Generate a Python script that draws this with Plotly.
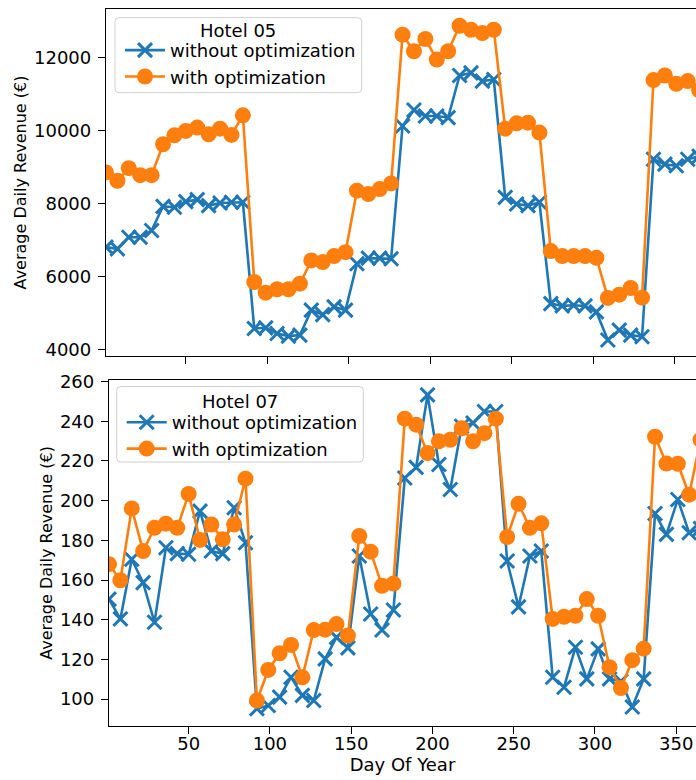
import plotly.graph_objects as go

# Weekly sample days (day of year)
days = [1, 8, 15, 22, 29, 36, 43, 50, 57, 64, 71, 78, 85, 92, 99, 106, 113, 120,
        127, 134, 141, 148, 155, 162, 169, 176, 183, 190, 197, 204, 211, 218, 225,
        232, 239, 246, 253, 260, 267, 274, 281, 288, 295, 302, 309, 316, 323, 330,
        337, 344, 351, 358, 365]

# Hotel 05 average daily revenue (EUR)
h05_without = [6806, 6760, 7079, 7079, 7262, 7926, 7899, 8055, 8109, 7945, 8016, 8036,
               8036, 4574, 4593, 4437, 4366, 4393, 5077, 4956, 5167, 5077, 6350, 6505,
               6505, 6486, 10131, 10568, 10404, 10404, 10358, 11514, 11587, 11361, 11404,
               8172, 7989, 7945, 8036, 5257, 5194, 5213, 5194, 5030, 4257, 4530, 4393,
               4347, 9219, 9082, 9038, 9219, 9300]
h05_with = [8855, 8628, 8973, 8781, 8781, 9628, 9874, 9995, 10085, 9902, 10057, 9885,
            10421, 5850, 5557, 5650, 5650, 5803, 6443, 6396, 6560, 6669, 8355, 8262,
            8399, 8555, 12634, 12180, 12516, 11951, 12180, 12880, 12770, 12680, 12770,
            10057, 10202, 10221, 9948, 6697, 6560, 6560, 6560, 6514, 5413, 5503, 5686,
            5421, 11388, 11514, 11287, 11361, 11115]

# Hotel 07 average daily revenue (EUR)
h07_without = [150.4, 140.4, 170.5, 158.7, 138.7, 176.3, 173.3, 173.0, 194.7, 174.6,
               173.3, 196.4, 178.8, 95.2, 96.8, 101.0, 111.0, 101.9, 99.3, 120.3, 131.1,
               125.8, 172.1, 142.9, 134.8, 144.9, 211.4, 216.8, 253.3, 218.2, 205.6,
               237.5, 239.1, 244.9, 244.9, 169.6, 146.5, 172.1, 174.6, 111.0, 106.0,
               126.1, 110.2, 125.3, 110.2, 109.0, 96.0, 110.2, 193.5, 183.0, 200.6,
               183.8, 186.0]
h07_with = [168.0, 159.9, 196.1, 174.6, 186.3, 188.4, 186.3, 203.4, 180.2, 188.0, 180.5,
            188.0, 211.1, 99.3, 114.7, 123.1, 127.3, 111.0, 134.8, 135.0, 137.8, 132.0,
            182.2, 174.3, 157.1, 158.2, 241.3, 238.3, 224.0, 229.9, 230.7, 236.5, 229.9,
            234.0, 241.3, 181.7, 198.4, 186.3, 188.6, 140.4, 141.5, 142.0, 150.4, 142.0,
            116.1, 105.6, 119.6, 125.4, 232.2, 218.7, 218.6, 203.0, 230.7]

x_ticks = [50, 100, 150, 200, 250, 300, 350]
series_names = ["without optimization", "with optimization"]
hotel_titles = ["Hotel 05", "Hotel 07"]

BLUE = "#1f77b4"
ORANGE = "#ff7f0e"
FONT = "DejaVu Sans"
FS = 18

W, H = 696, 780
ML, MR, MT, MB = 100, 0, 6, 54.3
PW, PH = W - ML - MR, H - MT - MB


def px_x(px):
    """Pixel column -> paper x."""
    return (px - ML) / PW


def px_y(py):
    """Pixel row (from top) -> paper y."""
    return (H - MB - py) / PH


def rounded_box(x0, y0, x1, y1, r=4):
    """Rounded rectangle path in paper coordinates from pixel corners."""
    pts = []
    pts.append(f"M{px_x(x0 + r)},{px_y(y0)}")
    pts.append(f"L{px_x(x1 - r)},{px_y(y0)}")
    pts.append(f"Q{px_x(x1)},{px_y(y0)} {px_x(x1)},{px_y(y0 + r)}")
    pts.append(f"L{px_x(x1)},{px_y(y1 - r)}")
    pts.append(f"Q{px_x(x1)},{px_y(y1)} {px_x(x1 - r)},{px_y(y1)}")
    pts.append(f"L{px_x(x0 + r)},{px_y(y1)}")
    pts.append(f"Q{px_x(x0)},{px_y(y1)} {px_x(x0)},{px_y(y1 - r)}")
    pts.append(f"L{px_x(x0)},{px_y(y0 + r)}")
    pts.append(f"Q{px_x(x0)},{px_y(y0)} {px_x(x0 + r)},{px_y(y0)}Z")
    return " ".join(pts)


fig = go.Figure()

panels = [
    (h05_without, h05_with, "x", "y", "legend"),
    (h07_without, h07_with, "x2", "y2", "legend2"),
]
for without, with_opt, xa, ya, lg in panels:
    fig.add_trace(go.Scatter(
        x=days, y=without, mode="lines+markers", name=series_names[0],
        line=dict(color=BLUE, width=2.6),
        marker=dict(symbol="x-thin", size=14, color=BLUE,
                    line=dict(color=BLUE, width=3)),
        xaxis=xa, yaxis=ya, legend=lg))
    fig.add_trace(go.Scatter(
        x=days, y=with_opt, mode="lines+markers", name=series_names[1],
        line=dict(color=ORANGE, width=2.6),
        marker=dict(symbol="circle", size=16, color=ORANGE, line=dict(width=0)),
        xaxis=xa, yaxis=ya, legend=lg))

axis_common = dict(showline=True, linecolor="black", linewidth=1.3, ticks="outside",
                   ticklen=7, tickwidth=1.3, tickcolor="black", showgrid=False,
                   zeroline=False, tickfont=dict(family=FONT, size=FS, color="black"))

ylabel = "Average Daily Revenue (€)"

# legend frames (box + centred title) for each panel
frames = [
    dict(box=(115, 14.7, 361.7, 90), title=hotel_titles[0], tx=238.4, ty=28),
    dict(box=(116.7, 385, 363.3, 460.7), title=hotel_titles[1], tx=240, ty=400),
]
shapes, annotations = [], []
for fr in frames:
    shapes.append(dict(type="path", xref="paper", yref="paper", layer="above",
                       path=rounded_box(*fr["box"]),
                       fillcolor="rgba(255,255,255,0.8)",
                       line=dict(color="#d0d0d0", width=1)))
    annotations.append(dict(xref="paper", yref="paper", x=px_x(fr["tx"]), y=px_y(fr["ty"]),
                            xanchor="center", yanchor="middle", showarrow=False,
                            text=fr["title"], font=dict(family=FONT, size=FS, color="black")))

legend_common = dict(xanchor="left", yanchor="top", bgcolor="rgba(0,0,0,0)",
                     borderwidth=0, itemwidth=40, font=dict(family=FONT, size=FS))

fig.update_layout(
    width=W, height=H,
    margin=dict(l=ML, r=MR, t=MT, b=MB),
    paper_bgcolor="white", plot_bgcolor="white",
    font=dict(family=FONT, size=FS, color="black"),
    xaxis=dict(domain=[px_x(106), 1], anchor="y", range=[1, 363.1], tickvals=x_ticks,
               showticklabels=False, mirror=True, **axis_common),
    yaxis=dict(domain=[px_y(354.3), 1], anchor="x", range=[3820, 13339],
               tickvals=[4000, 6000, 8000, 10000, 12000], tickformat="d",
               ticklabelstandoff=3,
               title=dict(text=ylabel, standoff=3, font=dict(family=FONT, size=16)),
               **axis_common),
    xaxis2=dict(domain=[px_x(109), 1], anchor="y2", range=[1, 362.2], tickvals=x_ticks,
                mirror=True, ticklabelstandoff=-6,
                title=dict(text="Day Of Year", standoff=4, font=dict(family=FONT, size=FS)),
                **axis_common),
    yaxis2=dict(domain=[0, px_y(378.3)], anchor="x2", range=[86.45, 260.85],
                tickvals=[100, 120, 140, 160, 180, 200, 220, 240, 260],
                ticklabelstandoff=3,
                title=dict(text=ylabel, standoff=3, font=dict(family=FONT, size=16)),
                **axis_common),
    legend=dict(x=px_x(120), y=px_y(29), **legend_common),
    legend2=dict(x=px_x(121.7), y=px_y(402.5), **legend_common),
    shapes=shapes,
    annotations=annotations,
    showlegend=True,
)

fig.write_html("out.html")
